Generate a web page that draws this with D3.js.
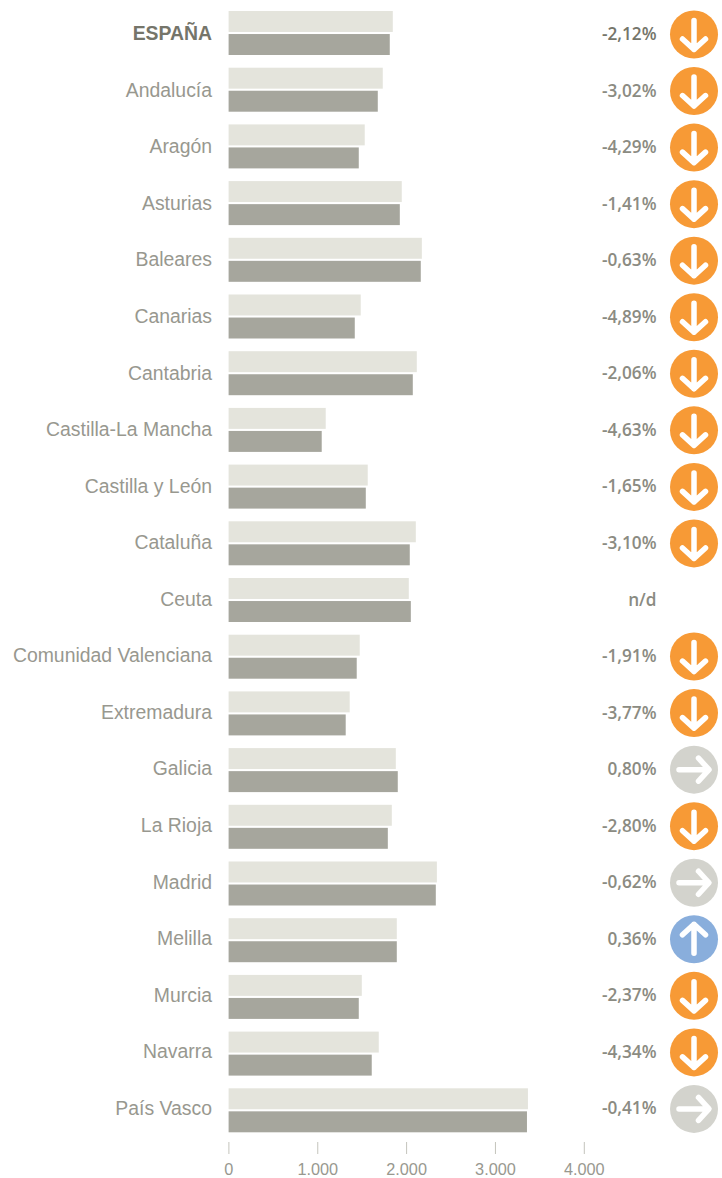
<!DOCTYPE html>
<html>
<head>
<meta charset="utf-8">
<script src="https://cdn.jsdelivr.net/npm/d3@7"></script>
<style>
  html, body { margin: 0; padding: 0; background: #fff; }
  svg { display: block; }
</style>
</head>
<body>
<div id="grafico"></div>
<script>
const regiones = ["ESPAÑA", "Andalucía", "Aragón", "Asturias", "Baleares", "Canarias", "Cantabria",
  "Castilla-La Mancha", "Castilla y León", "Cataluña", "Ceuta", "Comunidad Valenciana", "Extremadura",
  "Galicia", "La Rioja", "Madrid", "Melilla", "Murcia", "Navarra", "País Vasco"];
const valoresClaro = [1848, 1735, 1532, 1949, 2175, 1487, 2118, 1093, 1566, 2107, 2028, 1476, 1363, 1882, 1837, 2344, 1893, 1499, 1690, 3369];
const valoresOscuro = [1814, 1679, 1465, 1927, 2163, 1420, 2073, 1048, 1544, 2039, 2051, 1442, 1318, 1904, 1792, 2332, 1893, 1465, 1611, 3358];
const variaciones = ["-2,12%", "-3,02%", "-4,29%", "-1,41%", "-0,63%", "-4,89%", "-2,06%", "-4,63%", "-1,65%", "-3,10%",
  "n/d", "-1,91%", "-3,77%", "0,80%", "-2,80%", "-0,62%", "0,36%", "-2,37%", "-4,34%", "-0,41%"];
const tendencias = ["baja", "baja", "baja", "baja", "baja", "baja", "baja", "baja", "baja", "baja",
  null, "baja", "baja", "igual", "baja", "igual", "sube", "baja", "baja", "igual"];
const ticksX = [0, 1000, 2000, 3000, 4000];
const etiquetasX = ["0", "1.000", "2.000", "3.000", "4.000"];

const largura = 722;
const altura = 1178;

const svg = d3.select("#grafico").append("svg")
  .attr("width", largura)
  .attr("height", altura);

const escalaX = d3.scaleLinear().domain([0, 4000]).range([228.6, 584]);

// Las barras van a 56.7 px por fila, los textos y flechas a 56.55
const escalaY = d3.scaleBand().domain(regiones).range([4.65, 1138.65]);
const escalaTexto = d3.scaleBand().domain(regiones).range([6.22, 1137.22]);
const escalaSerie = d3.scaleBand().domain(["claro", "oscuro"]).range([-22, 22]).paddingInner(0.09);
const coloresSerie = { claro: "#e4e4dc", oscuro: "#a6a69d" };
const coloresFlecha = { baja: "#f79a36", igual: "#d3d3cd", sube: "#89aedc" };
const flechas = {
  baja: "M0,-14V15M-11.5,4.5L0,15L11.5,4.5",
  igual: "M-15,0H14M4.5,-11.5L15,0L4.5,11.5",
  sube: "M0,14V-15M-11.5,-4.5L0,-15L11.5,-4.5"
};

const centro = r => escalaY(r) + escalaY.bandwidth() / 2;
const centroTexto = r => escalaTexto(r) + escalaTexto.bandwidth() / 2;

// Barras
const filas = svg.selectAll(".fila")
  .data(regiones)
  .enter()
  .append("g")
  .attr("class", "fila")
  .attr("transform", r => `translate(0,${centro(r)})`);

filas.append("rect")
  .attr("x", escalaX(0))
  .attr("y", escalaSerie("claro"))
  .attr("width", (r, i) => escalaX(valoresClaro[i]) - escalaX(0))
  .attr("height", escalaSerie.bandwidth())
  .attr("fill", coloresSerie.claro);

filas.append("rect")
  .attr("x", escalaX(0))
  .attr("y", escalaSerie("oscuro"))
  .attr("width", (r, i) => escalaX(valoresOscuro[i]) - escalaX(0))
  .attr("height", escalaSerie.bandwidth())
  .attr("fill", coloresSerie.oscuro);

// Textos y flechas
const textos = svg.selectAll(".texto")
  .data(regiones)
  .enter()
  .append("g")
  .attr("class", "texto")
  .attr("transform", r => `translate(0,${centroTexto(r)})`);

textos.append("text")
  .attr("x", 212)
  .attr("y", -1)
  .attr("dy", "0.35em")
  .attr("text-anchor", "end")
  .style("font-family", "'Liberation Sans', Arial, sans-serif")
  .style("font-size", "19.4px")
  .style("font-weight", (r, i) => i === 0 ? "bold" : "normal")
  .attr("fill", (r, i) => i === 0 ? "#75756a" : "#98988f")
  .text(r => r);

textos.append("text")
  .attr("x", 656.5)
  .attr("y", -0.5)
  .attr("dy", "0.35em")
  .attr("text-anchor", "end")
  .style("font-family", "'Open Sans', sans-serif")
  .style("font-size", "17.2px")
  .style("font-weight", "600")
  .attr("fill", (r, i) => i === 0 ? "#75756a" : "#8b8b82")
  .text((r, i) => variaciones[i]);

const conFlecha = textos.filter((r, i) => tendencias[i] !== null)
  .append("g")
  .attr("transform", "translate(694,0)");

conFlecha.append("circle")
  .attr("r", 24)
  .attr("fill", r => coloresFlecha[tendencias[regiones.indexOf(r)]]);

conFlecha.append("path")
  .attr("d", r => flechas[tendencias[regiones.indexOf(r)]])
  .attr("fill", "none")
  .attr("stroke", "#fff")
  .attr("stroke-width", 5.5)
  .attr("stroke-linecap", "round")
  .attr("stroke-linejoin", "round");

// Eje X
const ejeX = svg.append("g")
  .attr("transform", "translate(0,1142)")
  .call(d3.axisBottom(escalaX)
    .tickValues(ticksX)
    .tickFormat((d, i) => etiquetasX[i])
    .tickSize(12)
    .tickPadding(9)
    .offset(0.3));

ejeX.select(".domain").remove();
ejeX.selectAll("line").attr("stroke", "#c4c4bc");
ejeX.selectAll("text")
  .style("font-family", "'Liberation Sans', Arial, sans-serif")
  .style("font-size", "16.3px")
  .attr("fill", "#98988f");
</script>
</body>
</html>
